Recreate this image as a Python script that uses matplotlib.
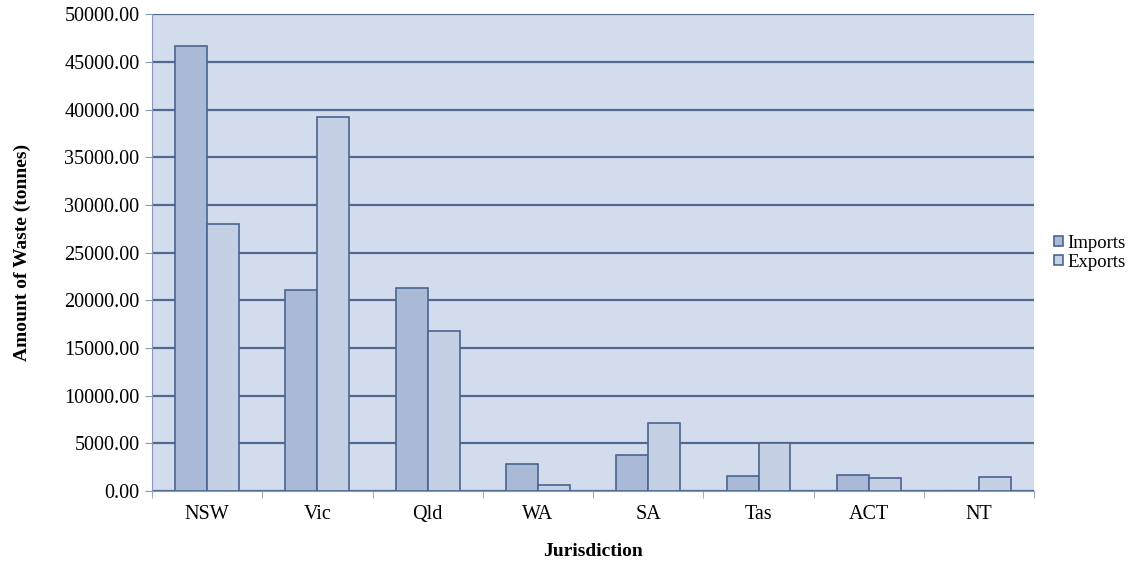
import numpy as np
import matplotlib.pyplot as plt

states = ['NSW', 'Vic', 'Qld', 'WA', 'SA', 'Tas', 'ACT', 'NT']
imports = [46650, 21050, 21300, 2800, 3750, 1550, 1700, 0]
exports = [28050, 39200, 16800, 600, 7100, 5000, 1400, 1450]

plt.rcParams['font.family'] = ['Liberation Serif', 'DejaVu Serif']

fig = plt.figure(figsize=(11.34, 5.67), dpi=100)
ax = fig.add_axes([0.134, 0.134, 0.778, 0.841])
ax.set_facecolor('#d3dcec')

x = np.arange(len(states))
w = 0.29
edge = '#4a6590'
ax.bar(x - w / 2, imports, w, color='#a9b9d6', edgecolor=edge, linewidth=1.2,
       label='Imports', zorder=3)
ax.bar(x + w / 2, exports, w, color='#c4d0e3', edgecolor=edge, linewidth=1.2,
       label='Exports', zorder=3)

ax.set_ylim(0, 50000)
ax.set_xlim(-0.5, len(states) - 0.5)
ax.set_yticks(np.arange(0, 50001, 5000))
ax.set_yticklabels(['%.2f' % v for v in np.arange(0, 50001, 5000)], fontsize=14.5)
ax.yaxis.grid(True, color='#4f6992', linewidth=1.6, zorder=1)
ax.set_axisbelow(True)

ax.set_xticks(x)
ax.set_xticklabels(states, fontsize=14.5)
ax.tick_params(axis='x', length=0, pad=10)
ax.set_xticks(np.arange(-0.5, len(states)), minor=True)
ax.tick_params(axis='x', which='minor', length=5, color='#8899b5')
ax.tick_params(axis='y', length=5, color='#8899b5', pad=4)

for s in ['top', 'right']:
    ax.spines[s].set_visible(False)
ax.spines['left'].set_color('#8899b5')
ax.spines['bottom'].set_color('#8899b5')

ax.set_xlabel('Jurisdiction', fontsize=14, fontweight='bold', labelpad=14)
ax.set_ylabel('Amount of Waste (tonnes)', fontsize=14, fontweight='bold', labelpad=24)

ax.legend(loc='center left', bbox_to_anchor=(1.014, 0.50), frameon=False,
          fontsize=13.5, handlelength=0.5, handleheight=0.5, handletextpad=0.2,
          labelspacing=0.1, borderaxespad=0)

fig.savefig('out.png', dpi=100)
